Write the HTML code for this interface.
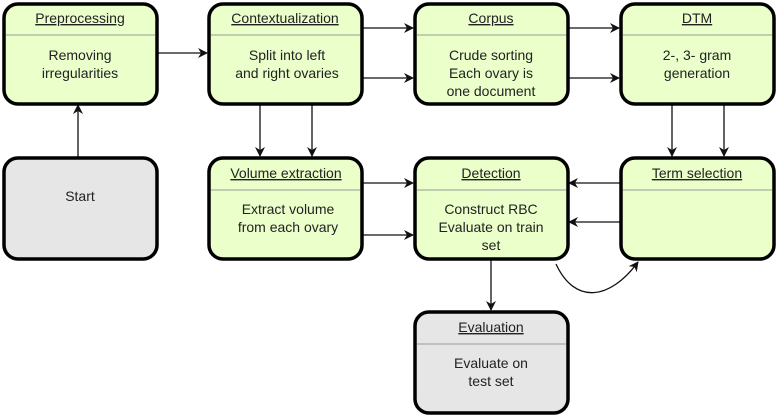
<!DOCTYPE html>
<html><head><meta charset="utf-8"><style>
html,body{margin:0;padding:0;background:#fff;}
svg{display:block;}
text{font-family:"Liberation Sans",Arial,sans-serif;font-size:14px;fill:#222;text-anchor:middle;}
.t{text-decoration:underline;}
</style></head><body>
<svg width="778" height="417" viewBox="0 0 778 417" xmlns="http://www.w3.org/2000/svg">
<defs>
<marker id="a" markerWidth="10" markerHeight="10" refX="9" refY="5" orient="auto" markerUnits="userSpaceOnUse">
<path d="M0,0 L10,5 L0,10 L3,5 z" fill="#111"/></marker>
</defs>
<g stroke="#111" stroke-width="1.3" fill="none">
<line x1="157" y1="53" x2="207" y2="53" marker-end="url(#a)"/>
<line x1="362" y1="28" x2="413" y2="28" marker-end="url(#a)"/>
<line x1="362" y1="78" x2="413" y2="78" marker-end="url(#a)"/>
<line x1="568" y1="28" x2="619" y2="28" marker-end="url(#a)"/>
<line x1="568" y1="78" x2="619" y2="78" marker-end="url(#a)"/>
<line x1="78" y1="157" x2="78" y2="105" marker-end="url(#a)"/>
<line x1="260" y1="104" x2="260" y2="156" marker-end="url(#a)"/>
<line x1="312" y1="104" x2="312" y2="156" marker-end="url(#a)"/>
<line x1="672" y1="104" x2="672" y2="156" marker-end="url(#a)"/>
<line x1="724" y1="104" x2="724" y2="156" marker-end="url(#a)"/>
<line x1="362" y1="183" x2="413" y2="183" marker-end="url(#a)"/>
<line x1="362" y1="235" x2="413" y2="235" marker-end="url(#a)"/>
<line x1="620" y1="183" x2="569" y2="183" marker-end="url(#a)"/>
<line x1="620" y1="222" x2="569" y2="222" marker-end="url(#a)"/>
<line x1="491" y1="260" x2="491" y2="310" marker-end="url(#a)"/>
<path d="M556,264 C575,305 610,300 638,262" marker-end="url(#a)"/>
</g>
<g stroke="#000" stroke-width="3.5">
<rect x="4" y="4" width="153" height="100" rx="14" fill="#eaffc9"/>
<rect x="209" y="4" width="153" height="100" rx="14" fill="#eaffc9"/>
<rect x="415" y="4" width="153" height="100" rx="14" fill="#eaffc9"/>
<rect x="621" y="4" width="153" height="100" rx="14" fill="#eaffc9"/>
<rect x="4" y="158" width="153" height="101" rx="14" fill="#e6e6e6"/>
<rect x="209" y="158" width="153" height="101" rx="14" fill="#eaffc9"/>
<rect x="415" y="158" width="153" height="101" rx="14" fill="#eaffc9"/>
<rect x="621" y="158" width="153" height="101" rx="14" fill="#eaffc9"/>
<rect x="415" y="312" width="153" height="101" rx="14" fill="#e6e6e6"/>
</g>
<g stroke="#999" stroke-width="1">
<line x1="6" y1="35" x2="155" y2="35"/>
<line x1="211" y1="35" x2="360" y2="35"/>
<line x1="417" y1="35" x2="566" y2="35"/>
<line x1="623" y1="35" x2="772" y2="35"/>
<line x1="211" y1="190" x2="360" y2="190"/>
<line x1="417" y1="190" x2="566" y2="190"/>
<line x1="623" y1="190" x2="772" y2="190"/>
<line x1="417" y1="344" x2="566" y2="344"/>
</g>
<text class="t" x="80" y="23">Preprocessing</text>
<text x="80" y="60">Removing</text><text x="80" y="78">irregularities</text>
<text class="t" x="285" y="23">Contextualization</text>
<text x="287" y="60">Split into left</text><text x="287" y="78">and right ovaries</text>
<text class="t" x="491" y="23">Corpus</text>
<text x="491" y="60">Crude sorting</text><text x="491" y="78">Each ovary is</text><text x="491" y="96">one document</text>
<text class="t" x="697" y="23">DTM</text>
<text x="697" y="60">2-, 3- gram</text><text x="697" y="78">generation</text>
<text x="80" y="201">Start</text>
<text class="t" x="286" y="178">Volume extraction</text>
<text x="288" y="214">Extract volume</text><text x="288" y="232">from each ovary</text>
<text class="t" x="491" y="178">Detection</text>
<text x="491" y="214">Construct RBC</text><text x="491" y="232">Evaluate on train</text><text x="491" y="250">set</text>
<text class="t" x="697" y="178">Term selection</text>
<text class="t" x="491" y="332">Evaluation</text>
<text x="491" y="368">Evaluate on</text><text x="491" y="386">test set</text>
</svg>
</body></html>
